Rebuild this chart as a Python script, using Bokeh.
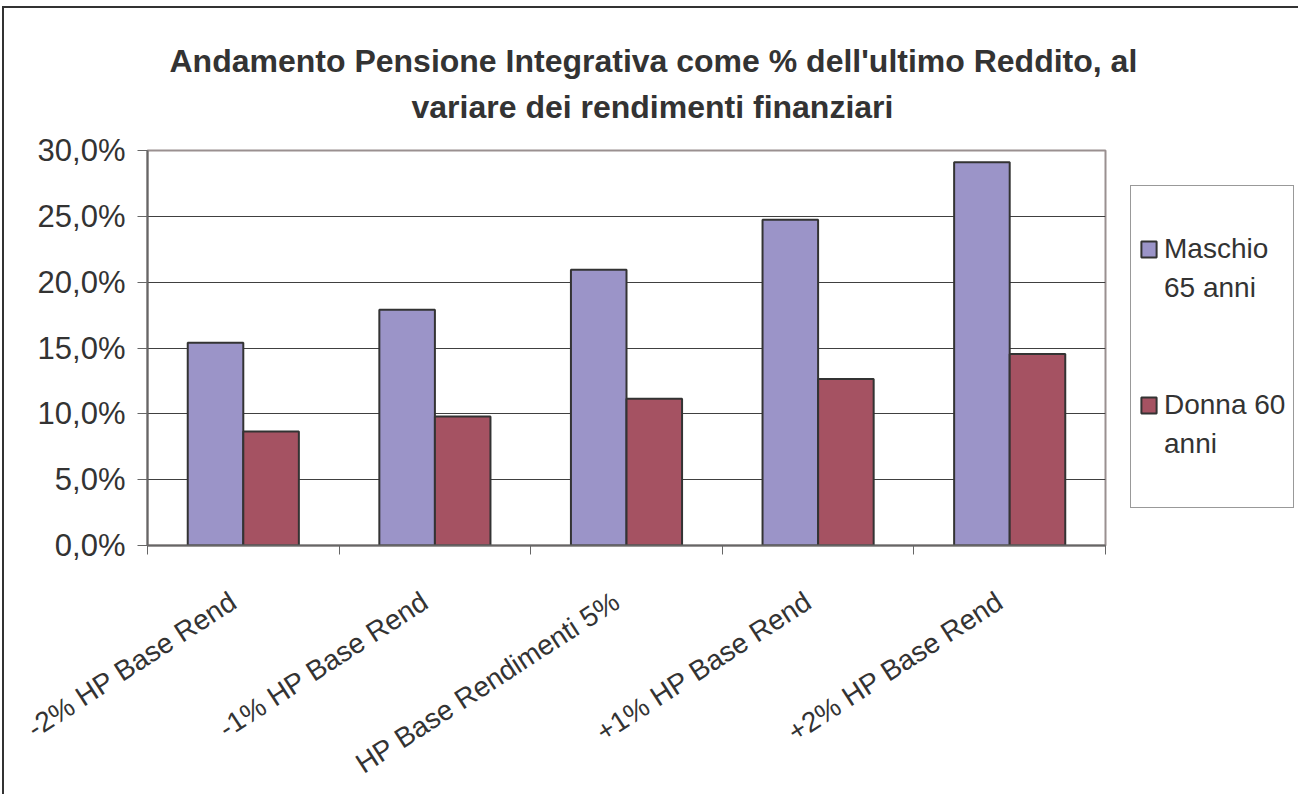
import numpy as np
from bokeh.plotting import figure
from bokeh.models import (ColumnDataSource, FixedTicker, CustomJSTickFormatter,
                          Legend, LegendItem, Title, Range1d)
from bokeh.embed import file_html
from bokeh.resources import INLINE

# ---- data ----
categories = ["-2% HP Base Rend", "-1% HP Base Rend", "HP Base Rendimenti 5%",
              "+1% HP Base Rend", "+2% HP Base Rend"]
maschio = [15.4, 17.9, 20.95, 24.75, 29.1]
donna = [8.65, 9.8, 11.15, 12.65, 14.55]
series_lines = [["Maschio", "65 anni"], ["Donna 60", "anni"]]
y_ticks = [0, 5, 10, 15, 20, 25, 30]
title_lines = ["Andamento Pensione Integrativa come % dell'ultimo Reddito, al",
               "variare dei rendimenti finanziari"]

FONT = "Liberation Sans"
TXT = "#333333"

idx = np.arange(len(categories))
bar_w = 0.29
src = ColumnDataSource(dict(
    xm=idx + 0.5 - bar_w / 2, xd=idx + 0.5 + bar_w / 2,
    m=maschio, d=donna, cat=categories))

p = figure(width=1288, height=786, output_backend="svg", toolbar_location=None,
           x_range=Range1d(0, len(categories)), y_range=Range1d(0, 30),
           min_border_left=143, min_border_right=187, min_border_top=142,
           min_border_bottom=249, frame_width=958, frame_height=395,
           title=None,
           styles={"border-top": "2px solid #333333",
                   "border-left": "2px solid #333333",
                   "border-right": "2px solid #333333",
                   "margin": "6px 0 0 2px"})
p.background_fill_color = "white"
p.border_fill_color = "white"
p.outline_line_color = "#9a9090"
p.outline_line_width = 2

rm = p.vbar(x="xm", top="m", width=bar_w, source=src, fill_color="#9b94c8",
            line_color="#333333", line_width=2)
rd = p.vbar(x="xd", top="d", width=bar_w, source=src, fill_color="#a55262",
            line_color="#333333", line_width=2)

# titles (second line added first so it sits closest to the frame)
t2 = Title(text=title_lines[1], align="left", text_font=FONT, text_font_size="32px",
           text_font_style="bold", text_color=TXT, standoff=52, offset=264)
t1 = Title(text=title_lines[0], align="left", text_font=FONT, text_font_size="32px",
           text_font_style="bold", text_color=TXT, standoff=-36, offset=22)
p.add_layout(t2, "above")
p.add_layout(t1, "above")

# y axis
p.yaxis.ticker = FixedTicker(ticks=y_ticks)
p.yaxis.formatter = CustomJSTickFormatter(code="return tick.toFixed(1).replace('.', ',') + '%';")
p.yaxis.major_label_text_font = FONT
p.yaxis.major_label_text_font_size = "31px"
p.yaxis.major_label_text_color = TXT
p.yaxis.axis_line_color = "#666666"
p.yaxis.axis_line_width = 2
p.yaxis.major_tick_line_color = "#666666"
p.yaxis.major_tick_out = 10
p.yaxis.major_tick_in = 0
p.yaxis.minor_tick_line_color = None
p.yaxis.major_label_standoff = 12

# x axis: labels (invisible major ticks) near category centres, visible ticks at boundaries
p.xaxis.ticker = FixedTicker(ticks=list(idx + 0.45), minor_ticks=list(range(len(categories) + 1)))
p.xaxis.formatter = CustomJSTickFormatter(args=dict(labels=categories),
                                          code="return labels[Math.floor(tick)];")
p.xaxis.major_label_orientation = np.deg2rad(33)
p.xaxis.major_label_text_font = FONT
p.xaxis.major_label_text_font_size = "28px"
p.xaxis.major_label_text_color = TXT
p.xaxis.axis_line_color = "#666666"
p.xaxis.axis_line_width = 2
p.xaxis.major_tick_out = 0
p.xaxis.major_tick_in = 0
p.xaxis.minor_tick_out = 9
p.xaxis.minor_tick_in = 0
p.xaxis.minor_tick_line_color = "#666666"
p.xaxis.major_label_standoff = 44

# grid
p.xgrid.grid_line_color = None
p.ygrid.ticker = FixedTicker(ticks=y_ticks)
p.ygrid.grid_line_color = "#404040"
p.ygrid.grid_line_width = 1

# legend: one row per text line, glyph on the first line of each series
items = [LegendItem(label=" ", renderers=[]),
         LegendItem(label=series_lines[0][0], renderers=[rm]),
         LegendItem(label=series_lines[0][1], renderers=[]),
         LegendItem(label=" ", renderers=[]),
         LegendItem(label=" ", renderers=[]),
         LegendItem(label=series_lines[1][0], renderers=[rd]),
         LegendItem(label=series_lines[1][1], renderers=[]),
         LegendItem(label=" ", renderers=[])]
legend = Legend(items=items, location=(25, 37), margin=0, padding=8, spacing=7,
                glyph_width=19, glyph_height=20, label_standoff=6, label_height=32,
                label_text_font=FONT, label_text_font_size="28px",
                label_text_color=TXT, border_line_color="#333333",
                border_line_width=1, background_fill_color="white")
p.add_layout(legend, "right")

open("out.html", "w").write(file_html(p, INLINE))
